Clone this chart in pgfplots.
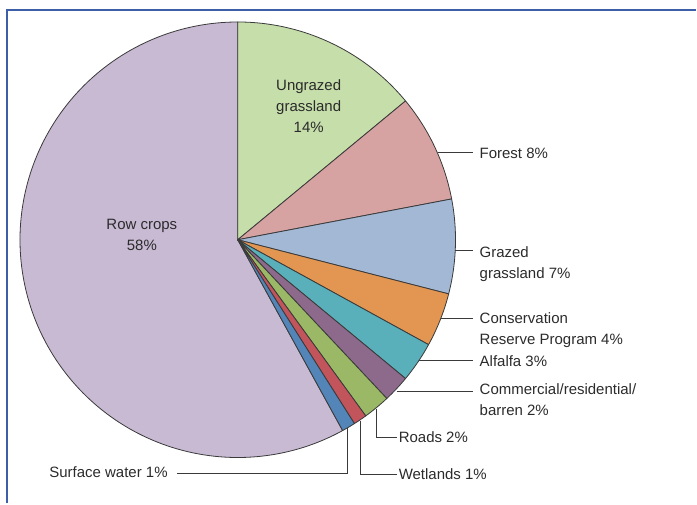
\documentclass[border=0pt]{standalone}
\usepackage{pgfplots}
\pgfplotsset{compat=1.18}
\usepackage{fontspec}
\setmainfont{Liberation Sans}
\definecolor{cRow}{HTML}{C9BAD4}
\definecolor{cUng}{HTML}{C6DEAA}
\definecolor{cFor}{HTML}{D7A3A2}
\definecolor{cGra}{HTML}{A2B8D5}
\definecolor{cCRP}{HTML}{E29652}
\definecolor{cAlf}{HTML}{59AFBA}
\definecolor{cCom}{HTML}{8D6A8C}
\definecolor{cRoa}{HTML}{9AB865}
\definecolor{cWet}{HTML}{C2545C}
\definecolor{cSur}{HTML}{5385B8}
\definecolor{edge}{HTML}{3A3A3A}
\definecolor{txt}{HTML}{2B2B2B}
\definecolor{frame}{HTML}{3D5FA8}
\tikzset{lab/.style={font=\fontsize{15bp}{21bp}\selectfont, text=txt, inner sep=0pt}}
\begin{document}
\begin{tikzpicture}
\begin{axis}[
  width=697bp, height=504bp, scale only axis,
  xmin=0, xmax=697, ymin=0, ymax=504, y dir=reverse,
  hide axis, clip=false,
  wedge/.style={draw=edge, line width=0.8bp, line join=round},
]
% shares (percent), clockwise from 12 o'clock; cumulative sums give the wedge limits
% Ungrazed 14, Forest 8, Grazed 7, CRP 4, Alfalfa 3, Commercial 2, Roads 2, Wetlands 1, Surface water 1, Row crops 58
\addplot[wedge, fill=cRow, domain={90-3.6*100}:{90-3.6*42}, samples=150] ({238+218*cos(\x)},{240-218*sin(\x)}) -- (axis cs:238,240) -- cycle;
\addplot[wedge, fill=cUng, domain={90-3.6*14}:{90-3.6*0}, samples=50] ({238+218*cos(\x)},{240-218*sin(\x)}) -- (axis cs:238,240) -- cycle;
\addplot[wedge, fill=cFor, domain={90-3.6*22}:{90-3.6*14}, samples=30] ({238+218*cos(\x)},{240-218*sin(\x)}) -- (axis cs:238,240) -- cycle;
\addplot[wedge, fill=cGra, domain={90-3.6*29}:{90-3.6*22}, samples=30] ({238+218*cos(\x)},{240-218*sin(\x)}) -- (axis cs:238,240) -- cycle;
\addplot[wedge, fill=cCRP, domain={90-3.6*33}:{90-3.6*29}, samples=20] ({238+218*cos(\x)},{240-218*sin(\x)}) -- (axis cs:238,240) -- cycle;
\addplot[wedge, fill=cAlf, domain={90-3.6*36}:{90-3.6*33}, samples=15] ({238+218*cos(\x)},{240-218*sin(\x)}) -- (axis cs:238,240) -- cycle;
\addplot[wedge, fill=cCom, domain={90-3.6*38}:{90-3.6*36}, samples=10] ({238+218*cos(\x)},{240-218*sin(\x)}) -- (axis cs:238,240) -- cycle;
\addplot[wedge, fill=cRoa, domain={90-3.6*40}:{90-3.6*38}, samples=10] ({238+218*cos(\x)},{240-218*sin(\x)}) -- (axis cs:238,240) -- cycle;
\addplot[wedge, fill=cWet, domain={90-3.6*41}:{90-3.6*40}, samples=6] ({238+218*cos(\x)},{240-218*sin(\x)}) -- (axis cs:238,240) -- cycle;
\addplot[wedge, fill=cSur, domain={90-3.6*42}:{90-3.6*41}, samples=6] ({238+218*cos(\x)},{240-218*sin(\x)}) -- (axis cs:238,240) -- cycle;

% frame
\draw[frame, line width=1.5bp] (axis cs:7,504) -- (axis cs:7,10) -- (axis cs:697,10);

% inner labels
\node[lab, align=center] at (axis cs:309,106) {Ungrazed\\grassland\\14\%};
\node[lab, align=center] at (axis cs:142,235) {Row crops\\58\%};

% leader lines
\begin{scope}[edge, line width=0.9bp]
\draw (axis cs:438,153) -- (axis cs:474,153);
\draw (axis cs:455,251) -- (axis cs:474,251);
\draw (axis cs:441,319) -- (axis cs:474,319);
\draw (axis cs:419,361) -- (axis cs:474,361);
\draw (axis cs:397,392) -- (axis cs:474,392);
\draw (axis cs:377,409) -- (axis cs:377,438) -- (axis cs:397,438);
\draw (axis cs:361,421) -- (axis cs:361,475) -- (axis cs:397,475);
\draw (axis cs:348,428) -- (axis cs:348,474) -- (axis cs:177,474);
\end{scope}

% outer labels
\node[lab, anchor=west] at (axis cs:480,154) {Forest 8\%};
\node[lab, anchor=west, align=left] at (axis cs:480,264) {Grazed\\grassland 7\%};
\node[lab, anchor=west, align=left] at (axis cs:480,330) {Conservation\\Reserve Program 4\%};
\node[lab, anchor=west] at (axis cs:480,362) {Alfalfa 3\%};
\node[lab, anchor=west, align=left] at (axis cs:480,400) {Commercial/residential/\\barren 2\%};
\node[lab, anchor=west] at (axis cs:399,438) {Roads 2\%};
\node[lab, anchor=west] at (axis cs:399,475) {Wetlands 1\%};
\node[lab, anchor=east] at (axis cs:168,473) {Surface water 1\%};
\path (axis cs:0,0) rectangle (axis cs:697,504);
\end{axis}
\end{tikzpicture}
\end{document}
